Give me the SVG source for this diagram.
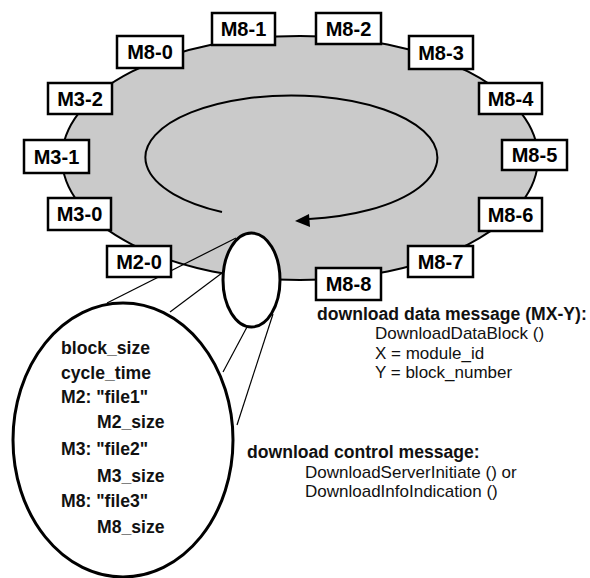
<svg xmlns="http://www.w3.org/2000/svg" width="590" height="578" viewBox="0 0 590 578">
<style>
.box rect{fill:#fff;stroke:#000;stroke-width:2.5}
.box text{font-family:"Liberation Sans",Arial,sans-serif;font-weight:bold;font-size:20px;text-anchor:middle;fill:#000}
.lbl{font-family:"Liberation Sans",Arial,sans-serif;font-size:17px;fill:#111}
.b{font-weight:bold;font-size:17.6px}
.thin{stroke:#000;stroke-width:1.2;fill:none}
</style>
<rect width="590" height="578" fill="#fff"/>
<g id="carousel">
<ellipse cx="300" cy="158" rx="238" ry="122" fill="#cacaca" stroke="#000" stroke-width="2"/>
</g>
<g id="connectors">
<path d="M222,212 A146,62 0 1 1 309,219" fill="none" stroke="#000" stroke-width="2"/>
<polygon points="295,221 309,214 310,227" fill="#000"/>
<line class="thin" x1="236" y1="238" x2="107" y2="303"/>
<line class="thin" x1="222" y1="273" x2="170" y2="312"/>
<line class="thin" x1="247" y1="327" x2="223" y2="372"/>
<line class="thin" x1="273" y1="314" x2="237" y2="425"/>
</g>
<g id="zoom-small">
<ellipse cx="251.5" cy="280" rx="28.5" ry="47" fill="#fff" stroke="#000" stroke-width="3"/>
</g>
<g id="zoom-large">
<ellipse cx="123" cy="440" rx="110" ry="137" fill="none" stroke="#000" stroke-width="3"/>
<text class="lbl b" x="61" y="354">block_size</text>
<text class="lbl b" x="61" y="379">cycle_time</text>
<text class="lbl b" x="61" y="403">M2: "file1"</text>
<text class="lbl b" x="97" y="428">M2_size</text>
<text class="lbl b" x="61" y="455">M3: "file2"</text>
<text class="lbl b" x="97" y="482">M3_size</text>
<text class="lbl b" x="61" y="507">M8: "file3"</text>
<text class="lbl b" x="97" y="533">M8_size</text>
</g>
<g id="M8-1" class="box"><rect x="212" y="13" width="63" height="32"/><text x="243.5" y="36">M8-1</text></g>
<g id="M8-0" class="box"><rect x="117" y="36" width="66" height="32"/><text x="150" y="59">M8-0</text></g>
<g id="M3-2" class="box"><rect x="48" y="83" width="64" height="31"/><text x="80" y="105.5">M3-2</text></g>
<g id="M3-1" class="box"><rect x="24" y="140" width="65" height="33"/><text x="56.5" y="163.5">M3-1</text></g>
<g id="M3-0" class="box"><rect x="48" y="198" width="63" height="32"/><text x="79.5" y="221">M3-0</text></g>
<g id="M2-0" class="box"><rect x="107" y="246" width="64" height="31"/><text x="139" y="268.5">M2-0</text></g>
<g id="M8-2" class="box"><rect x="316" y="13" width="65" height="31"/><text x="348.5" y="35.5">M8-2</text></g>
<g id="M8-3" class="box"><rect x="409" y="36" width="64" height="33"/><text x="441" y="59.5">M8-3</text></g>
<g id="M8-4" class="box"><rect x="479" y="83" width="63" height="31"/><text x="510.5" y="105.5">M8-4</text></g>
<g id="M8-5" class="box"><rect x="502" y="140" width="65" height="30"/><text x="534.5" y="162">M8-5</text></g>
<g id="M8-6" class="box"><rect x="479" y="198" width="63" height="33"/><text x="510.5" y="221.5">M8-6</text></g>
<g id="M8-7" class="box"><rect x="408" y="246" width="65" height="31"/><text x="440.5" y="268.5">M8-7</text></g>
<g id="M8-8" class="box"><rect x="316" y="268" width="65" height="32"/><text x="348.5" y="291">M8-8</text></g>
<g id="data-msg">
<text class="lbl b" x="317" y="320">download data message (MX-Y):</text>
<text class="lbl" x="375" y="339">DownloadDataBlock ()</text>
<text class="lbl" x="375" y="359">X = module_id</text>
<text class="lbl" x="375" y="378">Y = block_number</text>
</g>
<g id="control-msg">
<text class="lbl b" x="247" y="458">download control message:</text>
<text class="lbl" x="305" y="478">DownloadServerInitiate () or</text>
<text class="lbl" x="305" y="497">DownloadInfoIndication ()</text>
</g>
</svg>
